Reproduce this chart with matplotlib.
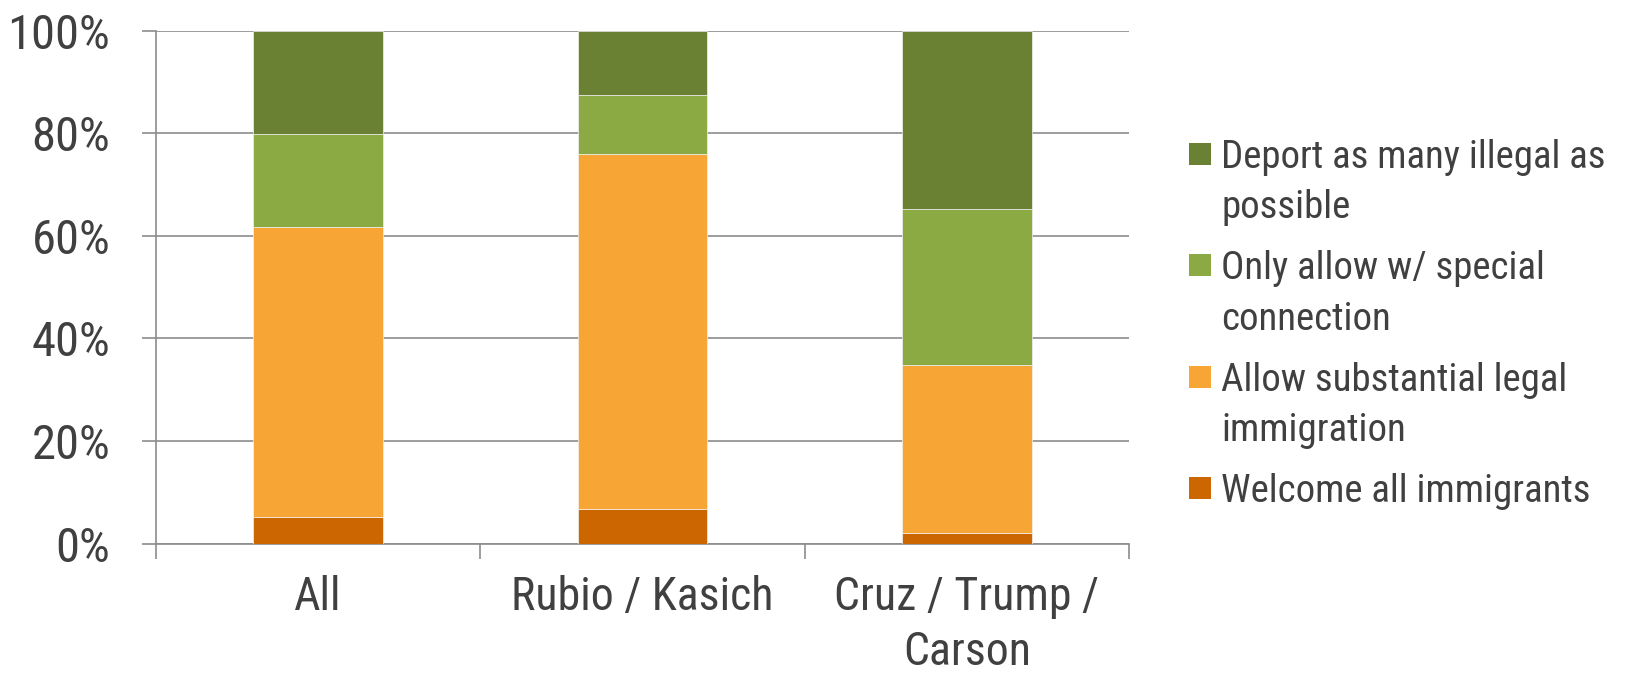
import numpy as np
import matplotlib
matplotlib.use("Agg")
import matplotlib.pyplot as plt
from matplotlib.patches import Rectangle

plt.rcParams['font.family'] = ['Roboto Condensed', 'Liberation Sans', 'DejaVu Sans']

categories = ['All', 'Rubio / Kasich', 'Cruz / Trump /\nCarson']
welcome = [5.2, 6.8, 2.1]
allow = [56.5, 69.1, 32.7]
only = [18.1, 11.5, 30.4]
deport = [20.2, 12.6, 34.8]

series_labels = ['Welcome all immigrants',
                 'Allow substantial legal\nimmigration',
                 'Only allow w/ special\nconnection',
                 'Deport as many illegal as\npossible']
series_colors = ['#CC6600', '#F7A535', '#8BAA43', '#6A8033']
yticks = [0, 20, 40, 60, 80, 100]

W, H = 1627, 677
text_color = '#404040'
grid_color = '#8C8C8C'

fig = plt.figure(figsize=(W / 100, H / 100), dpi=100)
ax = fig.add_axes([156 / W, 1 - 543.5 / H, (1129 - 156) / W, (543.5 - 30.7) / H])

x = np.arange(len(categories))
bottom = np.zeros(len(categories))
for vals, col in zip([welcome, allow, only, deport], series_colors):
    ax.bar(x, vals, width=0.4, bottom=bottom, color=col,
           edgecolor='#F2F2F2', linewidth=0.5, zorder=3)
    bottom += np.array(vals)

ax.set_xlim(-0.5, len(categories) - 0.5)
ax.set_ylim(0, 100)
ax.set_yticks(yticks)
ax.set_yticklabels([f'{v}%' for v in yticks])
ax.set_xticks(x)
ax.set_xticklabels(categories, linespacing=1.3)
ax.set_xticks(np.arange(len(categories) + 1) - 0.5, minor=True)

ax.tick_params(axis='x', which='major', length=0, pad=23, labelsize=33,
               labelcolor=text_color)
ax.tick_params(axis='x', which='minor', length=11, width=1.2, color=grid_color)
ax.tick_params(axis='y', length=10, width=1.2, color=grid_color, pad=23,
               labelsize=35, labelcolor=text_color)

ax.grid(axis='y', color=grid_color, linewidth=1.2, zorder=0)
ax.set_axisbelow(True)
for s in ['top', 'right']:
    ax.spines[s].set_visible(False)
for s in ['left', 'bottom']:
    ax.spines[s].set_color(grid_color)
    ax.spines[s].set_linewidth(1.2)

# legend, top entry is the top segment of the stack
for i, (lab, col) in enumerate(zip(series_labels[::-1], series_colors[::-1])):
    cy = 153.8 + i * 111.5
    fig.patches.append(Rectangle((1189 / W, 1 - (cy + 11) / H), 22 / W, 22 / H,
                                 transform=fig.transFigure, facecolor=col,
                                 edgecolor='none'))
    fig.text(1221 / W, 1 - (cy - 15) / H, lab, fontsize=28, color=text_color,
             va='top', ha='left', linespacing=1.47)

fig.savefig('out.png', dpi=100)
